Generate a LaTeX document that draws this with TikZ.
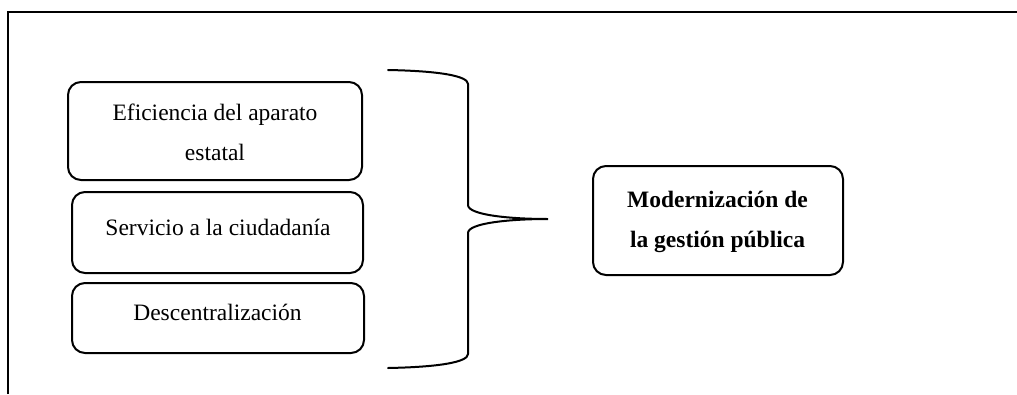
\documentclass[tikz,border=0pt]{standalone}
\usepackage{fontspec}
\setmainfont{Liberation Serif}
\begin{document}
\begin{tikzpicture}[x=1pt,y=-1pt,
  box/.style={draw=black, line width=2pt, rounded corners=13pt, inner sep=0pt},
  txt/.style={anchor=base, inner sep=0pt, font=\fontsize{23.5}{28}\selectfont},
  btxt/.style={txt, font=\fontsize{23.5}{28}\selectfont\bfseries},
  brace/.style={draw=black, line width=2pt, line cap=round}]
\useasboundingbox (0,0) rectangle (1017,394);

% frame around the figure
\coordinate (fa) at (8,394);
\coordinate (fb) at (8,12);
\coordinate (fc) at (1017,12);
\draw[line width=1.8pt] (fa) -- (fb) -- (fc);

% left-hand boxes
\node[box, minimum width=294pt, minimum height=98pt] (b1) at (215,131) {};
\node[txt] (t1a) at (215,120) {Eficiencia del aparato};
\node[txt] (t1b) at (215,160) {estatal};

\node[box, minimum width=291pt, minimum height=81pt] (b2) at (217.5,232.5) {};
\node[txt] (t2) at (218,235) {Servicio a la ciudadanía};

\node[box, minimum width=292pt, minimum height=70pt] (b3) at (218,318) {};
\node[txt] (t3) at (217.5,320) {Descentralización};

% right-hand box
\node[box, minimum width=250pt, minimum height=109pt] (r) at (718,220.5) {};
\node[btxt] (r1) at (717.5,207) {Modernización de};
\node[btxt] (r2) at (717.5,247) {la gestión pública};

% curly brace joining the boxes
\coordinate (bt) at (388,70);
\coordinate (bb) at (388,368);
\coordinate (tip) at (548,219);
\draw[brace] (bt) .. controls (440,71) and (468,76) .. (468,84)
  -- (468,205) .. controls (468,215) and (510,219) .. (tip)
  .. controls (510,219) and (468,223) .. (468,233)
  -- (468,354) .. controls (468,362) and (440,367) .. (bb);
\end{tikzpicture}
\end{document}
